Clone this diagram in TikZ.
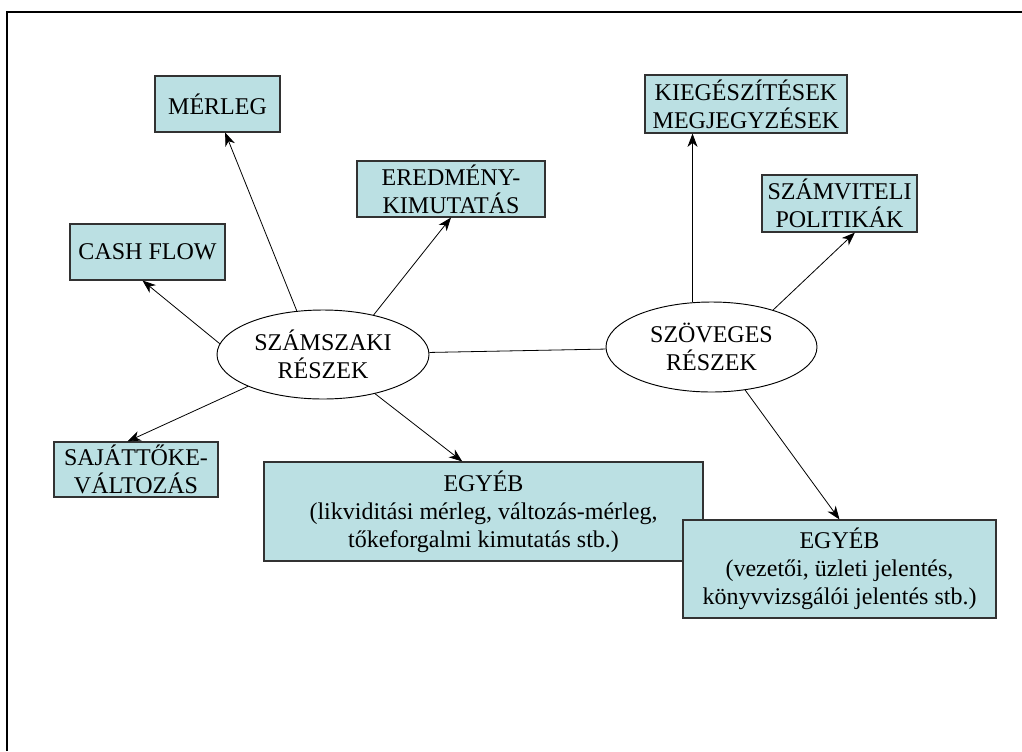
\documentclass[tikz,border=0pt]{standalone}
\usepackage{fontspec}
\setmainfont{Liberation Serif}
\usetikzlibrary{shapes.geometric,arrows.meta}
\definecolor{boxfill}{RGB}{187,224,227}
\definecolor{boxline}{RGB}{50,50,50}

\begin{document}
\begin{tikzpicture}[x=0.75pt,y=-0.75pt,
  part/.style={draw=boxline,fill=boxfill,line width=0.8pt,align=center,inner sep=0pt,
    font=\fontsize{18}{21}\selectfont},
  blob/.style={ellipse,draw,line width=0.7pt,align=center,inner sep=0pt,
    font=\fontsize{18}{21}\selectfont},
  arr/.style={-{Stealth[length=10pt,width=7.5pt,inset=3pt]},line width=0.6pt}]

\useasboundingbox (0,0) rectangle (1022,751);
\draw[line width=2pt] (7,751) -- (7,12) -- (1022,12);

% ellipses
\node[blob,minimum width=159pt,minimum height=66.75pt] (szam) at (323,354.5) {SZÁMSZAKI\\RÉSZEK};
\node[blob,minimum width=158.25pt,minimum height=67.5pt] (szov) at (711.5,347) {SZÖVEGES\\RÉSZEK};

% boxes
\node[part,minimum width=93.75pt,minimum height=42pt] (merleg) at (217.5,104) {MÉRLEG};
\node[part,minimum width=141pt,minimum height=42pt] (eredmeny) at (451,189) {EREDMÉNY-\\KIMUTATÁS};
\node[part,minimum width=116.25pt,minimum height=42pt] (cashflow) at (147.5,252) {CASH FLOW};
\node[part,minimum width=123pt,minimum height=41.25pt] (sajat) at (136,469.5) {SAJÁTTŐKE-\\VÁLTOZÁS};
\node[part,minimum width=329.25pt,minimum height=74.25pt] (egyebL) at (483.5,511.5)
  {EGYÉB\\(likviditási mérleg, változás-mérleg,\\tőkeforgalmi kimutatás stb.)};
\node[part,minimum width=151.5pt,minimum height=43.5pt] (kieg) at (746,104) {KIEGÉSZÍTÉSEK\\MEGJEGYZÉSEK};
\node[part,minimum width=116.25pt,minimum height=42.75pt] (szamv) at (839.5,203.5) {SZÁMVITELI\\POLITIKÁK};
\node[part,minimum width=234.75pt,minimum height=73.5pt] (egyebR) at (839.5,569)
  {EGYÉB\\(vezetői, üzleti jelentés,\\könyvvizsgálói jelentés stb.)};

\draw[line width=0.6pt] (szam) -- (szov);

\draw[arr] (szam.121) -- (merleg.285);
\draw[arr] (szam.38) -- (eredmeny.south);
\draw[arr] (szam.174) -- (cashflow.260);
\draw[arr] (szam.203) -- (sajat.107);
\draw[arr] (szam.323) -- (egyebL.113);

\draw[arr] (szov.113) -- (szov.113 |- kieg.south);
\draw[arr] (szov.31) -- (szamv.298);
\draw[arr] (szov.308) -- (egyebR.north);

\end{tikzpicture}
\end{document}
